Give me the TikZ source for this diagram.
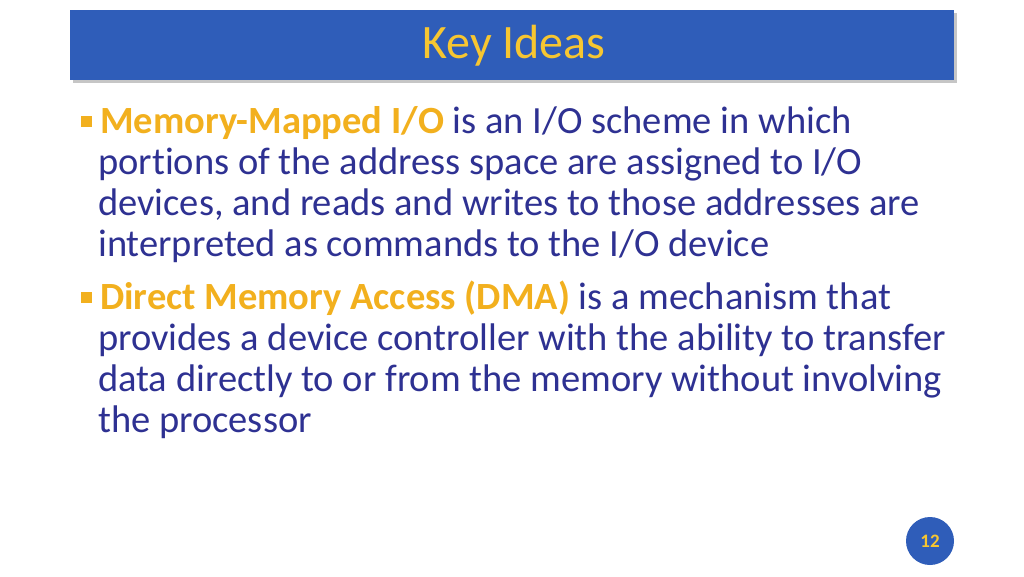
\documentclass[tikz,border=0pt]{standalone}
\usepackage{fontspec}
\setmainfont[Ligatures=NoCommon]{Carlito}
\begin{document}
\begin{tikzpicture}[x=1pt,y=-1pt,
  body/.style={anchor=base west,inner sep=0pt,text=txt,font=\fontsize{38.5}{42}\selectfont},
  bul/.style={fill=hlc,minimum size=11pt,inner sep=0pt}]
\definecolor{txt}{HTML}{2E3192}
\definecolor{hlc}{HTML}{F2B01E}
\definecolor{barc}{HTML}{2F5DB9}
\definecolor{ttl}{HTML}{F7C631}
\useasboundingbox (0,0) rectangle (1024,576);
\fill[white] (0,0) rectangle (1024,576);
\fill[gray!45] (73,13) rectangle (957,83);
\fill[barc] (70,10) rectangle (954,80);
\node[text=ttl,font=\fontsize{48}{52}\selectfont] (title) at (514,46) {Key Ideas};
\node[bul] (b1) at (86,121) {};
\node[body] (l1) at (100,133) {\textcolor{hlc}{\textbf{Memory-Mapped I/O}} is an I/O scheme in which};
\node[body] (l2) at (98,174) {portions of the address space are assigned to I/O};
\node[body] (l3) at (98,215) {devices, and reads and writes to those addresses are};
\node[body] (l4) at (98,256) {interpreted as commands to the I/O device};
\node[bul] (b2) at (86,297) {};
\node[body] (l5) at (100,309) {\textcolor{hlc}{\textbf{Direct Memory Access (DMA)}} is a mechanism that};
\node[body] (l6) at (98,350) {provides a device controller with the ability to transfer};
\node[body] (l7) at (98,391) {data directly to or from the memory without involving};
\node[body] (l8) at (98,432) {the processor};
\node[circle,fill=barc,minimum size=48pt,inner sep=0pt,text=ttl,font=\fontsize{19}{22}\selectfont\bfseries] (pg) at (930,541) {12};
\end{tikzpicture}
\end{document}
